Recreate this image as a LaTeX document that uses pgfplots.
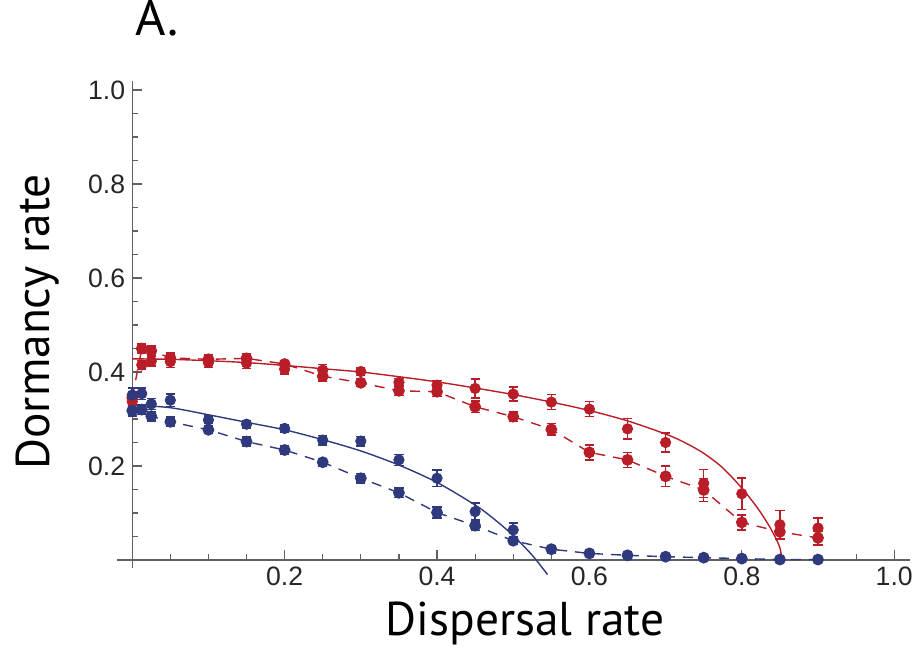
\documentclass[border=0pt]{standalone}
\usepackage{pgfplots}
\pgfplotsset{compat=1.18}
\usepackage{pgfplotstable}
\usepackage{fontspec}
\setmainfont{Liberation Sans}
\newfontfamily\labelfont{PT Sans}
\definecolor{myred}{RGB}{185,30,40}
\definecolor{myblue}{RGB}{46,58,125}
\definecolor{axgray}{RGB}{95,95,95}

\pgfplotstableread{
x y e
0 0.345 0.012
0.0125 0.450 0.010
0.025 0.445 0.010
0.05 0.430 0.010
0.1 0.427 0.010
0.15 0.429 0.010
0.2 0.417 0.008
0.25 0.391 0.010
0.3 0.377 0.008
0.35 0.360 0.010
0.4 0.358 0.010
0.45 0.326 0.012
0.5 0.305 0.010
0.55 0.278 0.012
0.6 0.229 0.016
0.65 0.213 0.016
0.7 0.178 0.022
0.75 0.149 0.024
0.8 0.080 0.016
0.85 0.060 0.014
0.9 0.047 0.015
}\reddash

\pgfplotstableread{
x y e
0 0.337 0.012
0.0125 0.415 0.010
0.025 0.423 0.010
0.05 0.422 0.012
0.1 0.420 0.010
0.15 0.419 0.012
0.2 0.406 0.010
0.25 0.404 0.012
0.3 0.401 0.008
0.35 0.378 0.008
0.4 0.372 0.010
0.45 0.365 0.020
0.5 0.353 0.015
0.55 0.336 0.016
0.6 0.321 0.016
0.65 0.279 0.022
0.7 0.250 0.020
0.75 0.163 0.030
0.8 0.141 0.034
0.85 0.075 0.030
0.9 0.068 0.021
}\redpts

\pgfplotstableread{
x y
0 0.428
0.05 0.427
0.1 0.424
0.15 0.420
0.2 0.414
0.25 0.407
0.3 0.400
0.35 0.390
0.4 0.379
0.45 0.366
0.5 0.352
0.55 0.336
0.6 0.318
0.65 0.296
0.7 0.268
0.725 0.250
0.75 0.227
0.775 0.196
0.8 0.153
0.82 0.112
0.835 0.075
0.845 0.045
0.85 0.026
0.853 0.0
}\redcurve

\pgfplotstableread{
x y e
0 0.318 0.012
0.0125 0.320 0.010
0.025 0.306 0.010
0.05 0.294 0.010
0.1 0.277 0.008
0.15 0.252 0.010
0.2 0.234 0.010
0.25 0.208 0.008
0.3 0.174 0.010
0.35 0.143 0.010
0.4 0.101 0.012
0.45 0.073 0.010
0.5 0.041 0.008
0.55 0.023 0.008
0.6 0.014 0.006
0.65 0.010 0.004
0.7 0.007 0.004
0.75 0.005 0.004
0.8 0.003 0.004
0.85 0.001 0.004
0.9 0.001 0.004
}\bluedash

\pgfplotstableread{
x y e
0 0.351 0.015
0.0125 0.354 0.012
0.025 0.332 0.012
0.05 0.340 0.013
0.1 0.298 0.008
0.15 0.289 0.008
0.2 0.280 0.008
0.25 0.255 0.010
0.3 0.253 0.010
0.35 0.213 0.012
0.4 0.174 0.018
0.45 0.103 0.018
0.5 0.064 0.015
}\bluepts

\pgfplotstableread{
x y
0 0.330
0.05 0.324
0.1 0.309
0.15 0.293
0.2 0.277
0.25 0.256
0.3 0.232
0.35 0.202
0.4 0.165
0.45 0.117
0.475 0.087
0.5 0.052
0.525 0.010
0.545 -0.031
}\bluecurve

\begin{document}
\begin{tikzpicture}
\useasboundingbox (-58.5pt,-50.5pt) rectangle (400pt,284pt);
\begin{axis}[
  at={(0pt,0pt)}, anchor=south west,
  scale only axis, width=396.6pt, height=243.7pt,
  xmin=-0.02, xmax=1.021, ymin=-0.017, ymax=1.02,
  axis lines=middle,
  axis line style={-, draw=axgray, line width=0.6pt},
  clip=false,
  xtick={0.2,0.4,0.6,0.8,1.0},
  ytick={0.2,0.4,0.6,0.8,1.0},
  minor xtick={0.05,0.1,0.15,0.25,0.3,0.35,0.45,0.5,0.55,0.65,0.7,0.75,0.85,0.9,0.95},
  minor ytick={0.05,0.1,0.15,0.25,0.3,0.35,0.45,0.5,0.55,0.65,0.7,0.75,0.85,0.9,0.95},
  tick align=inside,
  major tick length=5pt, minor tick length=3pt,
  tick style={draw=axgray, line width=0.6pt},
  /pgf/number format/assume math mode=true,
  xticklabel style={/pgf/number format/fixed, /pgf/number format/fixed zerofill, /pgf/number format/precision=1},
  yticklabel style={/pgf/number format/fixed, /pgf/number format/fixed zerofill, /pgf/number format/precision=1},
  tick label style={font=\fontsize{13.3}{16}\selectfont, text=black!85},
  xlabel={Dispersal rate},
  ylabel={Dormancy rate},
  xlabel style={at={(axis description cs:0.5145,-0.1375)}, anchor=base, font=\labelfont\fontsize{23.7}{28}\selectfont},
  ylabel style={rotate=90, at={(axis description cs:-0.0845,0.505)}, anchor=base, font=\labelfont\fontsize{23.7}{28}\selectfont},
  title={A.},
  title style={at={(axis description cs:0.015,1.067)}, anchor=base west, font=\labelfont\fontsize{26}{30}\selectfont},
]
\addplot[myred, line width=0.7pt, smooth, no markers] table[x=x,y=y] {\redcurve};
\addplot[myred, line width=0.7pt, dash pattern=on 5pt off 4pt, mark=*, mark size=2.6pt,
  mark options={solid, fill=myred, draw=myred},
  error bars/.cd, y dir=both, y explicit,
  error bar style={solid, draw=myred, line width=0.75pt},
  error mark options={solid, draw=myred, line width=0.75pt, mark size=2.3pt, rotate=90}]
  table[x=x, y=y, y error=e] {\reddash};
\addplot[myred, only marks, mark=*, mark size=2.6pt,
  mark options={solid, fill=myred, draw=myred},
  error bars/.cd, y dir=both, y explicit,
  error bar style={solid, draw=myred, line width=0.75pt},
  error mark options={solid, draw=myred, line width=0.75pt, mark size=2.3pt, rotate=90}]
  table[x=x, y=y, y error=e] {\redpts};
\addplot[myblue, line width=0.7pt, smooth, no markers] table[x=x,y=y] {\bluecurve};
\addplot[myblue, line width=0.7pt, dash pattern=on 5pt off 4pt, mark=*, mark size=2.6pt,
  mark options={solid, fill=myblue, draw=myblue},
  error bars/.cd, y dir=both, y explicit,
  error bar style={solid, draw=myblue, line width=0.75pt},
  error mark options={solid, draw=myblue, line width=0.75pt, mark size=2.3pt, rotate=90}]
  table[x=x, y=y, y error=e] {\bluedash};
\addplot[myblue, only marks, mark=*, mark size=2.6pt,
  mark options={solid, fill=myblue, draw=myblue},
  error bars/.cd, y dir=both, y explicit,
  error bar style={solid, draw=myblue, line width=0.75pt},
  error mark options={solid, draw=myblue, line width=0.75pt, mark size=2.3pt, rotate=90}]
  table[x=x, y=y, y error=e] {\bluepts};
\end{axis}
\end{tikzpicture}
\end{document}
